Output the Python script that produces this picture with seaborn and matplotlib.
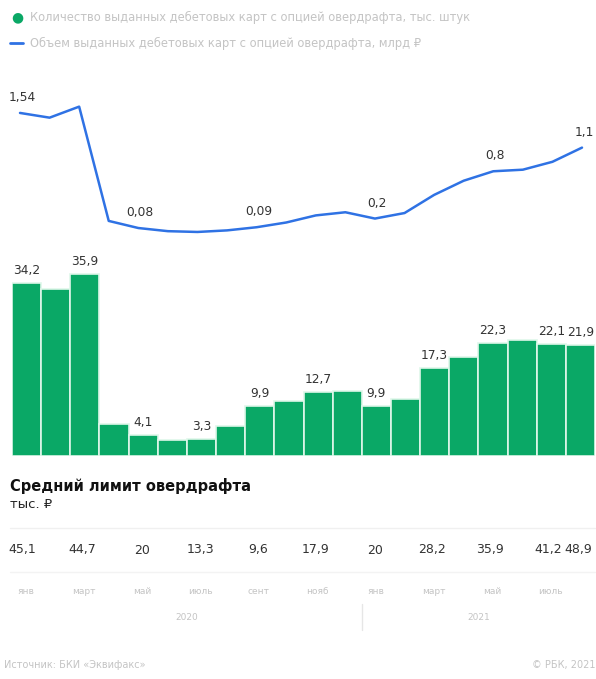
import matplotlib
matplotlib.use("Agg")
import matplotlib.pyplot as plt
import seaborn as sns
import pandas as pd
import numpy as np

# ---- data ----
periods = list(range(20))
cards = [34.2, 33.0, 35.9, 6.4, 4.1, 3.2, 3.3, 5.9, 9.9, 10.9,
         12.7, 12.8, 9.9, 11.3, 17.3, 19.6, 22.3, 22.9, 22.1, 21.9]
volume = [1.54, 1.48, 1.62, 0.17, 0.08, 0.04, 0.03, 0.05, 0.09, 0.15,
          0.24, 0.28, 0.2, 0.27, 0.5, 0.68, 0.8, 0.82, 0.92, 1.1]
card_label_idx = [0, 2, 4, 6, 8, 10, 12, 14, 16, 18, 19]
card_labels = ["34,2", "35,9", "4,1", "3,3", "9,9", "12,7", "9,9", "17,3", "22,3", "22,1", "21,9"]
vol_label_idx = [0, 4, 8, 12, 16, 19]
vol_labels = ["1,54", "0,08", "0,09", "0,2", "0,8", "1,1"]
limit_labels = ["45,1", "44,7", "20", "13,3", "9,6", "17,9", "20", "28,2", "35,9", "41,2", "48,9"]
month_idx = [0, 2, 4, 6, 8, 10, 12, 14, 16, 18]
month_labels = ["янв", "март", "май", "июль", "сент", "нояб", "янв", "март", "май", "июль"]
years = ["2020", "2021"]
year_spans = [(0, 11), (12, 19)]

legend_cards = "Количество выданных дебетовых карт с опцией овердрафта, тыс. штук"
legend_volume = "Объем выданных дебетовых карт с опцией овердрафта, млрд ₽"
GREEN = "#0aa866"
BLUE = "#2f72e4"
FAINT = "#c4c4c4"

df = pd.DataFrame({"period": periods, "cards": cards, "volume": volume})

sns.set_theme(style="white")
plt.rcParams["font.family"] = ["DejaVu Sans", "Noto Sans"]

W, H = 596, 679
fig = plt.figure(figsize=(W / 100, H / 100), dpi=100)

def fx(px):
    return px / W

def fy(py):
    return 1 - py / H

x_left, x_right = 12, 595

# ---- bar axes ----
axb = fig.add_axes([fx(x_left), fy(456), fx(x_right - x_left), (456 - 250) / H])
sns.barplot(data=df, x="period", y="cards", ax=axb, color=GREEN, width=1.0,
            edgecolor="#dff7ea", linewidth=1.2, saturation=1)
axb.set_xlim(-0.5, 19.5)
axb.set_ylim(0, 40.7)
axb.axis("off")
for i, lab in zip(card_label_idx, card_labels):
    axb.annotate(lab, (i, cards[i]), xytext=(0, 6), textcoords="offset pixels",
                 ha="center", va="bottom", fontsize=8.8, color="#333333")

# ---- line axes ----
axl = fig.add_axes([fx(x_left), fy(240), fx(x_right - x_left), 150 / H])
sns.lineplot(data=df, x="period", y="volume", ax=axl, color=BLUE, linewidth=1.8)
ppu = (582 - 20) / 19
lo = -(20 - x_left) / ppu
axl.set_xlim(lo, lo + (x_right - x_left) / ppu)
axl.set_ylim(-0.072, 1.831)
axl.axis("off")
for i, lab in zip(vol_label_idx, vol_labels):
    axl.annotate(lab, (i, volume[i]), xytext=(2, 9), textcoords="offset pixels",
                 ha="center", va="bottom", fontsize=8.8, color="#333333")

# ---- legend (header) ----
fig.text(fx(17), fy(17), "●", color=GREEN, fontsize=10, ha="center", va="center")
fig.text(fx(30), fy(17), legend_cards, color=FAINT, fontsize=8.3, ha="left", va="center")
fig.add_artist(plt.Line2D([fx(10), fx(23)], [fy(43), fy(43)], color=BLUE, linewidth=2))
fig.text(fx(30), fy(43), legend_volume, color=FAINT, fontsize=8.3, ha="left", va="center")

# ---- bottom table ----
fig.text(fx(10), fy(486), "Средний лимит овердрафта", fontsize=10.5, fontweight="bold",
         color="#111111", ha="left", va="center")
fig.text(fx(10), fy(505), "тыс. ₽", fontsize=9.5, color="#222222", ha="left", va="center")
fig.add_artist(plt.Line2D([fx(10), fx(595)], [fy(528), fy(528)], color="#f0f0f0", linewidth=1))

def xpix(i):
    return x_left + (x_right - x_left) * (i + 0.5) / 20

limit_x = [22, 82, 142, 200, 258, 316, 375, 432, 490, 548, 578]
for px, lab in zip(limit_x, limit_labels):
    fig.text(fx(px), fy(550), lab, fontsize=9, color="#333333", ha="center", va="center")
fig.add_artist(plt.Line2D([fx(10), fx(595)], [fy(572), fy(572)], color="#f3f3f3", linewidth=1))
for i, lab in zip(month_idx, month_labels):
    fig.text(fx(xpix(i) - 1), fy(591), lab, fontsize=6.5, color=FAINT, ha="center", va="center")
for yr, (a, b) in zip(years, year_spans):
    cx = (xpix(a) + xpix(b)) / 2
    fig.text(fx(cx), fy(617), yr, fontsize=6.5, color=FAINT, ha="center", va="center")
sep = x_left + (x_right - x_left) * 12 / 20
fig.add_artist(plt.Line2D([fx(sep), fx(sep)], [fy(604), fy(630)], color="#e6e6e6", linewidth=1))

# ---- footer ----
fig.text(fx(4), fy(665), "Источник: БКИ «Эквифакс»", fontsize=7, color=FAINT, ha="left", va="center")
fig.text(fx(596), fy(665), "© РБК, 2021", fontsize=7, color=FAINT, ha="right", va="center")

fig.savefig("out.png", dpi=100, facecolor="white")
